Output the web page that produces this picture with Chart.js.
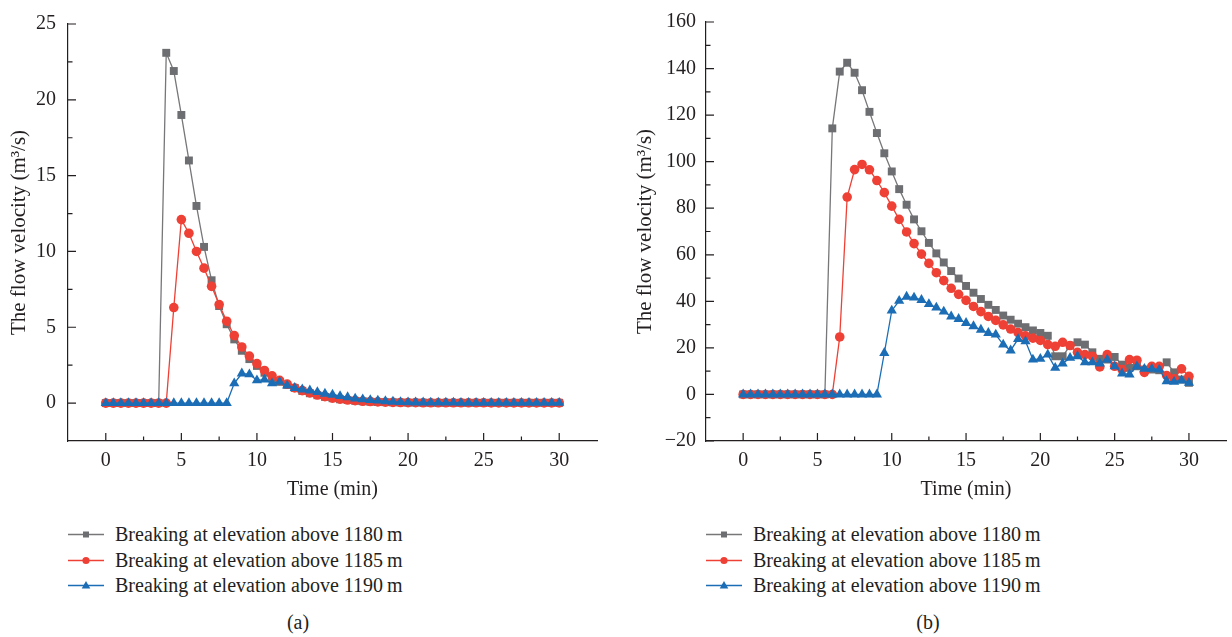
<!DOCTYPE html>
<html>
<head>
<meta charset="utf-8">
<script src="https://cdn.jsdelivr.net/npm/chart.js@4.4.1/dist/chart.umd.min.js"></script>
<style>
  body { margin: 0; background: #fff; font-family: 'Liberation Serif', serif; color: #231f20; }
  #page { position: relative; width: 1232px; height: 637px; overflow: hidden; }
  canvas { position: absolute; top: 0; }
  .legend { position: absolute; top: 522px; font-size: 20px; }
  .legend div { height: 25.5px; display: flex; align-items: center; white-space: nowrap; }
  .legend svg { margin-right: 11px; flex: none; }
  .caption { position: absolute; top: 610px; font-size: 20px; line-height: 24px; transform: translateX(-50%); }
</style>
</head>
<body>
<div id="page">
  <canvas id="chartA" width="616" height="510" style="left:0"></canvas>
  <canvas id="chartB" width="616" height="510" style="left:616px"></canvas>
  <div class="legend" id="legendA" style="left:68px"></div>
  <div class="legend" id="legendB" style="left:706px"></div>
  <div class="caption" style="left:298px">(a)</div>
  <div class="caption" style="left:928px">(b)</div>
</div>
<script>
// --- data (time step 0.5 min) ---
const times = [0, 0.5, 1, 1.5, 2, 2.5, 3, 3.5, 4, 4.5, 5, 5.5, 6, 6.5, 7, 7.5, 8, 8.5, 9, 9.5,
  10, 10.5, 11, 11.5, 12, 12.5, 13, 13.5, 14, 14.5, 15, 15.5, 16, 16.5, 17, 17.5, 18, 18.5, 19, 19.5,
  20, 20.5, 21, 21.5, 22, 22.5, 23, 23.5, 24, 24.5, 25, 25.5, 26, 26.5, 27, 27.5, 28, 28.5, 29, 29.5, 30];

const seriesNames = [
  'Breaking at elevation above 1180\u2009m',
  'Breaking at elevation above 1185\u2009m',
  'Breaking at elevation above 1190\u2009m'
];

// panel (a)
const grayA = [0, 0, 0, 0, 0, 0, 0, 0,
  23.1, 21.9, 19.0, 16.0, 13.0, 10.3, 8.1, 6.4, 5.2, 4.2, 3.45, 2.9, 2.45, 2.0, 1.65, 1.4, 1.2, 1.0,
  0.8, 0.65, 0.52, 0.41, 0.32, 0.25, 0.2, 0.15, 0.12, 0.09, 0.07, 0.06, 0.05, 0.04, 0.03,
  0.03, 0.03, 0.02, 0.02, 0.02, 0.02, 0.02, 0.02, 0.02, 0.02, 0.02, 0.02, 0.02, 0.02, 0.02, 0.02, 0.02, 0.02, 0.02, 0.02];
const redA = [0, 0, 0, 0, 0, 0, 0, 0, 0,
  6.3, 12.1, 11.2, 10.0, 8.9, 7.7, 6.5, 5.4, 4.45, 3.7, 3.1, 2.6, 2.15, 1.8, 1.5, 1.25, 1.0,
  0.82, 0.67, 0.53, 0.42, 0.33, 0.26, 0.2, 0.16, 0.12, 0.1, 0.08, 0.06, 0.05, 0.04, 0.03,
  0.03, 0.02, 0.02, 0.02, 0.02, 0.02, 0.02, 0.02, 0.02, 0.02, 0.01, 0.01, 0.01, 0.01, 0.01, 0.01, 0.01, 0.01, 0.01, 0.01];
const blueA = [0, 0, 0, 0, 0, 0, 0, 0, 0, 0, 0, 0, 0, 0, 0, 0, 0,
  1.3, 1.95, 1.9, 1.5, 1.55, 1.3, 1.4, 1.15, 1.0, 0.9, 0.83, 0.72, 0.62, 0.55, 0.46, 0.39, 0.3, 0.25,
  0.2, 0.16, 0.12, 0.09, 0.07, 0.05,
  0.04, 0.04, 0.03, 0.03, 0.03, 0.03, 0.02, 0.02, 0.02, 0.02, 0.02, 0.02, 0.02, 0.02, 0.02, 0.02, 0.02, 0.02, 0.02, 0.02];

// panel (b)
const grayB = [0, 0, 0, 0, 0, 0, 0, 0, 0, 0, 0, 0,
  114.3, 138.7, 142.5, 138.2, 130.7, 121.4, 112.3, 103.6, 95.8, 88.2, 81.5, 75.2, 70.1, 65.1, 60.6, 56.7, 53.0, 49.8, 46.6,
  43.7, 41.0, 38.5, 36.3, 33.9, 32.1, 30.4, 28.9, 27.5, 26.4, 25.2, 16.4, 16.4, 21.0, 22.4, 21.4, 18.1, 15.3, 15.0, 16.1,
  12.8, 11.4, 12.1, 10.7, 10.7, 10.4, 13.8, 9.5, 6.4, 5.0];
const redB = [0, 0, 0, 0, 0, 0, 0, 0, 0, 0, 0, 0, 0,
  24.7, 84.8, 96.6, 98.8, 96.5, 91.9, 86.7, 80.9, 75.2, 69.8, 64.8, 60.3, 56.3, 52.3, 48.9, 45.6, 43.0, 40.4,
  37.8, 35.6, 33.5, 31.8, 29.9, 28.1, 26.6, 25.2, 24.2, 23.2, 21.4, 20.7, 22.4, 21.0, 18.1, 17.1, 16.4, 11.8, 17.1, 12.1,
  10.7, 15.0, 14.7, 9.5, 12.1, 12.1, 8.1, 6.7, 11.0, 7.8];
const blueB = [0, 0, 0, 0, 0, 0, 0, 0, 0, 0, 0, 0, 0, 0, 0, 0, 0, 0, 0,
  17.8, 36.0, 40.2, 42.0, 41.6, 40.6, 38.8, 37.3, 35.6, 33.5, 32.4, 30.7,
  29.3, 27.8, 26.4, 25.7, 21.4, 18.9, 23.8, 22.8, 15.0, 15.3, 17.1, 11.4, 13.3, 15.7, 16.4, 13.8, 13.8, 13.3, 15.0, 12.1,
  9.0, 8.6, 12.1, 11.0, 11.0, 10.7, 5.7, 5.4, 6.0, 5.0];

const xTicks = [0, 5, 10, 15, 20, 25, 30];
const yTicksA = [0, 5, 10, 15, 20, 25];
const yTicksB = [-20, 0, 20, 40, 60, 80, 100, 120, 140, 160];

// --- styles ---
const textColor = '#231f20';
const axisColor = '#231f20';
const lineColors = ['#77777a', '#ee4035', '#1b6db5'];
const markerColors = ['#6d6e71', '#ee4035', '#1b6db5'];
const markerStyles = ['rect', 'circle', 'triangle'];
const markerRadius = [5.6, 4.8, 5.9];
const serif = "'Liberation Serif', 'Times New Roman', serif";

// ticks pointing into the plot, major + minor halfway
const innerTicks = {
  id: 'innerTicks',
  afterDraw(chart) {
    const { ctx, chartArea: a, scales } = chart;
    ctx.save();
    ctx.strokeStyle = axisColor;
    ctx.lineWidth = 1.2;
    ctx.beginPath();
    const mark = (scale, v, len) => {
      const p = scale.getPixelForValue(v);
      if (scale.isHorizontal()) { ctx.moveTo(p, a.bottom); ctx.lineTo(p, a.bottom - len); }
      else { ctx.moveTo(a.left, p); ctx.lineTo(a.left + len, p); }
    };
    [scales.x, scales.y].forEach(scale => {
      const vals = scale.ticks.map(t => t.value);
      vals.forEach((v, i) => {
        mark(scale, v, 8);
        if (i > 0) mark(scale, (v + vals[i - 1]) / 2, 4.5);
      });
    });
    ctx.stroke();
    ctx.restore();
  }
};

const fmt = v => (v < 0 ? '\u2212' + Math.abs(v) : String(v));

function buildChart(id, series, yTicks, o) {
  const datasets = series.map((vals, i) => ({
    label: seriesNames[i],
    data: times.map((t, j) => ({ x: t, y: vals[j] })),
    borderColor: lineColors[i],
    backgroundColor: markerColors[i],
    pointBackgroundColor: markerColors[i],
    pointStyle: markerStyles[i],
    pointRadius: markerRadius[i],
    pointBorderWidth: 0,
    borderWidth: 1.3,
    order: 3 - i
  }));

  return new Chart(document.getElementById(id), {
    type: 'line',
    data: { datasets },
    options: {
      responsive: false,
      animation: false,
      layout: { padding: { top: 20, right: o.padRight, left: 0, bottom: 0 } },
      plugins: { legend: { display: false }, tooltip: { enabled: false } },
      scales: {
        x: {
          type: 'linear', min: -2.5, max: 32.5,
          grid: { display: false, drawTicks: false },
          border: { display: true, color: axisColor, width: 1.2 },
          ticks: { padding: 8, color: textColor, font: { family: serif, size: 20 }, callback: fmt },
          afterBuildTicks: s => { s.ticks = xTicks.map(v => ({ value: v })); },
          afterFit: s => { s.height = 69; },
          title: { display: true, text: 'Time (min)', color: textColor,
            font: { family: serif, size: 20 }, padding: { top: 0, bottom: 8 } }
        },
        y: {
          type: 'linear', min: o.yMin, max: o.yMax,
          grid: { display: false, drawTicks: false },
          border: { display: true, color: axisColor, width: 1.2 },
          ticks: { padding: o.tickPad, color: textColor, font: { family: serif, size: 20 }, callback: fmt },
          afterBuildTicks: s => { s.ticks = yTicks.map(v => ({ value: v })); },
          afterFit: s => { s.width = o.yWidth; },
          title: { display: true, text: 'The flow velocity (m\u00b3/s)', color: textColor,
            font: { family: serif, size: 21 }, padding: { top: o.titlePad, bottom: 0 } }
        }
      }
    },
    plugins: [innerTicks]
  });
}

buildChart('chartA', [grayA, redA, blueA], yTicksA,
  { yMin: -2.5, yMax: 25, yWidth: 68, padRight: 19, tickPad: 12, titlePad: 7 });
buildChart('chartB', [grayB, redB, blueB], yTicksB,
  { yMin: -20, yMax: 160, yWidth: 90, padRight: 3, tickPad: 10, titlePad: 17 });

// legend below each panel: line sample with marker, then text
function markerSvg(i) {
  const c = markerColors[i];
  let m;
  if (i === 0) m = `<rect x="15" y="3.5" width="6" height="6" fill="${c}"/>`;
  else if (i === 1) m = `<circle cx="18" cy="6.5" r="3.6" fill="${c}"/>`;
  else m = `<polygon points="18,2 22.3,9.5 13.7,9.5" fill="${c}"/>`;
  return `<svg width="36" height="13" viewBox="0 0 36 13">
    <line x1="0" y1="6.5" x2="36" y2="6.5" stroke="${lineColors[i]}" stroke-width="1.3"/>${m}</svg>`;
}
['legendA', 'legendB'].forEach(id => {
  const box = document.getElementById(id);
  seriesNames.forEach((name, i) => {
    const row = document.createElement('div');
    row.innerHTML = markerSvg(i) + '<span>' + name + '</span>';
    box.appendChild(row);
  });
});
</script>
</body>
</html>
